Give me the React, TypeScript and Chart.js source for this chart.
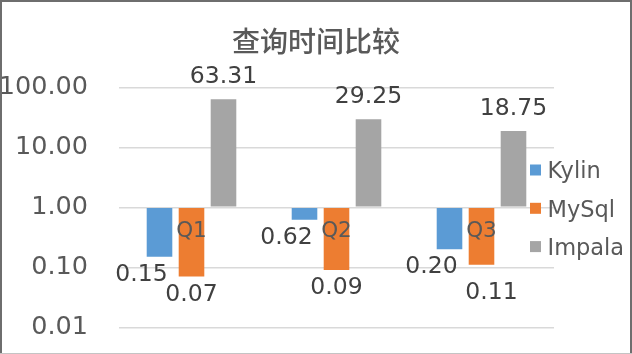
import React, { useEffect, useRef } from 'react';
import { Chart, registerables } from 'chart.js';

Chart.register(...registerables);

// ---- data ----
const chartTitle = '查询时间比较';
const categories = ['Q1', 'Q2', 'Q3'];
const seriesNames = ['Kylin', 'MySql', 'Impala'];
const kylinValues = [0.15, 0.62, 0.2];
const mysqlValues = [0.07, 0.09, 0.11];
const impalaValues = [63.31, 29.25, 18.75];
const yTickValues = [0.01, 0.1, 1, 10, 100];
const seriesColors = ['#5B9BD5', '#ED7D31', '#A5A5A5'];

const LATIN = '"DejaVu Sans", sans-serif';
const TEXT = '#595959';
const LABEL = '#404040';

const decorPlugin = {
  id: 'decor',
  beforeDraw(chart: any) {
    const ctx = chart.ctx;
    ctx.save();
    ctx.fillStyle = '#ffffff';
    ctx.fillRect(0, 0, chart.width, chart.height);
    ctx.restore();
  },
  afterDatasetsDraw(chart: any) {
    const ctx = chart.ctx;
    const xs = chart.scales.x;
    const ys = chart.scales.y;
    ctx.save();
    // category labels on the 1.00 line (drawn over bars)
    const qsize = 21.5;
    ctx.font = `${qsize}px ${LATIN}`;
    ctx.fillStyle = TEXT;
    ctx.textAlign = 'center';
    ctx.textBaseline = 'alphabetic';
    const baseY = ys.getPixelForValue(1);
    chart.data.labels.forEach((lab: string, j: number) => {
      ctx.fillText(lab, xs.getPixelForValue(j), baseY + 22 + qsize * 0.365);
    });
    // data labels
    const size = 23.5;
    ctx.font = `${size}px ${LATIN}`;
    ctx.fillStyle = LABEL;
    const capHalf = size * 0.365;
    const placed: Record<number, number[]> = {};
    chart.data.datasets.forEach((ds: any, i: number) => {
      const meta = chart.getDatasetMeta(i);
      const dx = i === 0 ? -18 : 0;
      meta.data.forEach((el: any, j: number) => {
        const v = ds.data[j];
        const up = v >= 1;
        let cx = el.x + dx;
        let cy = up ? el.y - 24.5 : el.y + 15.5;
        const prev = placed[j] || [];
        if (!up && prev.some((py) => Math.abs(py - cy) < 17)) {
          cx += 10;
          cy += 10;
        }
        if (!up) placed[j] = [...prev, cy];
        ctx.fillText(v.toFixed(2), cx, cy + capHalf);
      });
    });
    ctx.restore();
  },
  afterDraw(chart: any) {
    const ctx = chart.ctx;
    ctx.save();
    // title
    ctx.font = `500 28px "Noto Sans CJK SC", sans-serif`;
    ctx.fillStyle = TEXT;
    ctx.textAlign = 'center';
    ctx.textBaseline = 'middle';
    ctx.fillText(chartTitle, chart.width / 2, 41);
    // legend
    const lsize = 22.5;
    ctx.font = `${lsize}px ${LATIN}`;
    ctx.textAlign = 'left';
    ctx.textBaseline = 'alphabetic';
    chart.data.datasets.forEach((ds: any, i: number) => {
      const cy = 170 + i * 38.3;
      ctx.fillStyle = ds.backgroundColor;
      ctx.fillRect(530, cy - 5.5, 11, 11);
      ctx.fillStyle = TEXT;
      ctx.fillText(ds.label, 547.5, cy + lsize * 0.365);
    });
    // border
    ctx.strokeStyle = '#6e6e6e';
    ctx.lineWidth = 2;
    ctx.beginPath();
    ctx.moveTo(1, 354);
    ctx.lineTo(1, 1);
    ctx.lineTo(631, 1);
    ctx.lineTo(631, 354);
    ctx.stroke();
    ctx.strokeStyle = '#c4c4c4';
    ctx.lineWidth = 1;
    ctx.beginPath();
    ctx.moveTo(0, 353.5);
    ctx.lineTo(632, 353.5);
    ctx.stroke();
    ctx.restore();
  },
};

export default function App() {
  const ref = useRef<HTMLCanvasElement | null>(null);

  useEffect(() => {
    document.body.style.margin = '0';
    const canvas = ref.current;
    if (!canvas) return;
    const seriesValues = [kylinValues, mysqlValues, impalaValues];
    const chart = new Chart(canvas, {
      type: 'bar',
      data: {
        labels: categories,
        datasets: seriesNames.map((name, i) => ({
          label: name,
          data: seriesValues[i],
          backgroundColor: seriesColors[i],
          base: 1,
          categoryPercentage: 0.662,
          barPercentage: 0.8,
        })),
      },
      options: {
        responsive: false,
        animation: false,
        devicePixelRatio: 1,
        layout: { padding: { left: 0, right: 78, top: 87.3, bottom: 26.7 } },
        plugins: {
          legend: { display: false },
          tooltip: { enabled: false },
          title: { display: false },
        },
        scales: {
          x: {
            type: 'category',
            display: false,
            offset: true,
          },
          y: {
            type: 'logarithmic',
            min: 0.01,
            max: 100,
            afterBuildTicks: (s: any) => {
              s.ticks = yTickValues.map((v) => ({ value: v }));
            },
            afterFit: (s: any) => {
              s.width = 119;
              s.paddingTop = 0;
              s.paddingBottom = 0;
            },
            grid: { color: '#d9d9d9', lineWidth: 1.5, drawTicks: false },
            border: { display: false },
            ticks: {
              color: TEXT,
              font: { family: LATIN, size: 25.5 },
              padding: 31,
              callback: (v: any) => Number(v).toFixed(2),
            },
          },
        },
      },
      plugins: [decorPlugin],
    } as any);
    return () => chart.destroy();
  }, []);

  return (
    <div style={{ width: 632, height: 354 }}>
      <canvas ref={ref} width={632} height={354} style={{ display: 'block', width: 632, height: 354 }} />
    </div>
  );
}
